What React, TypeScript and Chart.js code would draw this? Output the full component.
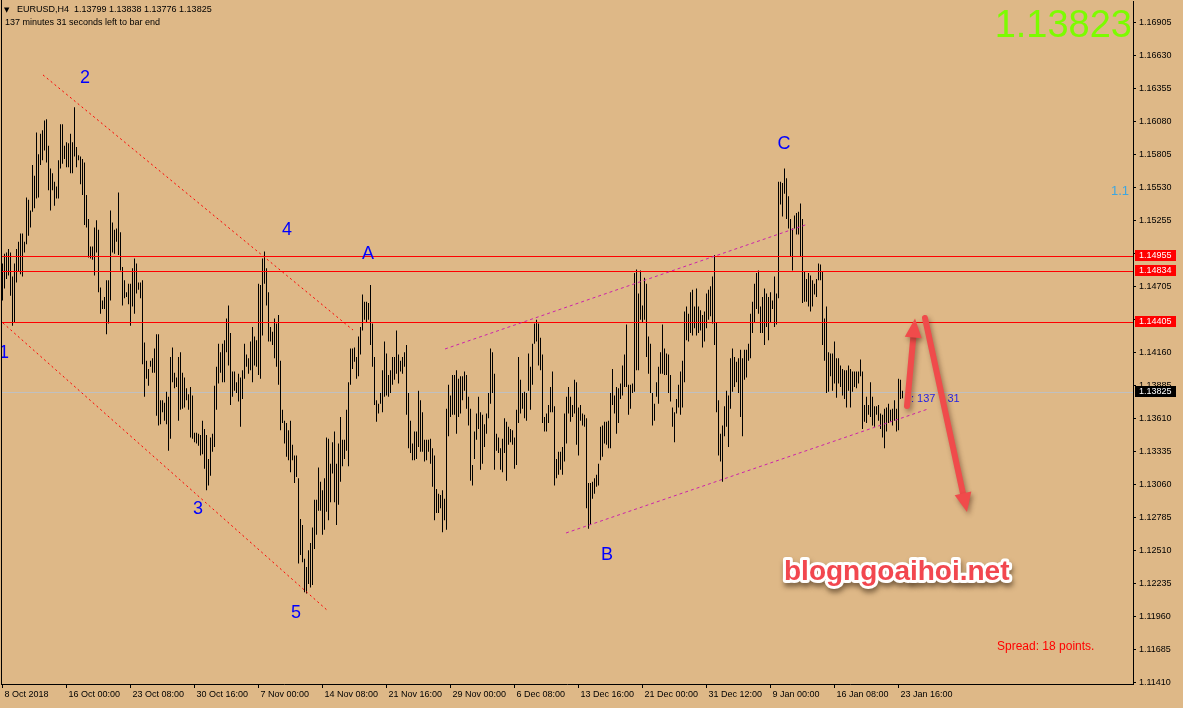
import React, { useEffect, useRef } from 'react';
import { Chart, registerables } from 'chart.js';

Chart.register(...registerables);

const FONT = '"Liberation Sans", Arial, sans-serif';
const BG = '#DEB887';

const headerText = 'EURUSD,H4  1.13799 1.13838 1.13776 1.13825';
const timerText = '137 minutes 31 seconds left to bar end';
const bigPrice = '1.13823';
const spreadText = 'Spread: 18 points.';
const fiboText = '1.1';
const barTimerParts = [': 137', ':', '31'];
const watermark = 'blogngoaihoi.net';

// H4 bar highs (bar 0 = 8 Oct 2018)
const highs: number[] = [
  1.1490,1.1498,1.1499,1.1502,1.1499,1.1479,1.1490,1.1502,1.1508,1.1515,
  1.1515,1.1508,1.1545,1.1543,1.1534,1.1572,1.1563,1.1599,1.1581,1.1598,
  1.1601,1.1609,1.1610,1.1588,1.1569,1.1565,1.1558,1.1554,1.1576,1.1606,
  1.1606,1.1588,1.1591,1.1590,1.1598,1.1591,1.1620,1.1587,1.1580,1.1579,
  1.1577,1.1574,1.1547,1.1527,1.1504,1.1504,1.1520,1.1526,1.1518,1.1470,
  1.1459,1.1462,1.1476,1.1476,1.1534,1.1524,1.1518,1.1519,1.1549,1.1516,
  1.1487,1.1476,1.1466,1.1473,1.1473,1.1486,1.1494,1.1490,1.1474,1.1474,
  1.1476,1.1424,1.1409,1.1402,1.1409,1.1411,1.1419,1.1431,1.1431,1.1376,
  1.1376,1.1374,1.1383,1.1379,1.1412,1.1420,1.1399,1.1395,1.1412,1.1416,
  1.1399,1.1395,1.1386,1.1381,1.1387,1.1380,1.1349,1.1349,1.1348,1.1347,
  1.1359,1.1352,1.1347,1.1327,1.1345,1.1348,1.1388,1.1404,1.1423,1.1416,
  1.1423,1.1426,1.1444,1.1455,1.1432,1.1400,1.1400,1.1391,1.1398,1.1395,
  1.1401,1.1423,1.1414,1.1411,1.1425,1.1437,1.1429,1.1426,1.1473,1.1472,
  1.1494,1.1500,1.1486,1.1466,1.1437,1.1433,1.1444,1.1440,1.1447,1.1409,
  1.1368,1.1359,1.1357,1.1351,1.1359,1.1339,1.1330,1.1330,1.1311,1.1277,
  1.1272,1.1244,1.1237,1.1251,1.1257,1.1270,1.1293,1.1293,1.1320,1.1308,
  1.1301,1.1311,1.1345,1.1344,1.1323,1.1341,1.1350,1.1323,1.1340,1.1362,
  1.1343,1.1343,1.1368,1.1391,1.1419,1.1419,1.1420,1.1412,1.1429,1.1437,
  1.1464,1.1458,1.1458,1.1457,1.1472,1.1440,1.1412,1.1376,1.1373,1.1382,
  1.1401,1.1425,1.1415,1.1397,1.1401,1.1412,1.1412,1.1434,1.1414,1.1409,
  1.1412,1.1416,1.1422,1.1382,1.1359,1.1340,1.1350,1.1350,1.1384,1.1376,
  1.1366,1.1343,1.1343,1.1343,1.1344,1.1336,1.1330,1.1302,1.1298,1.1297,
  1.1301,1.1294,1.1369,1.1389,1.1380,1.1397,1.1397,1.1401,1.1394,1.1396,
  1.1396,1.1400,1.1397,1.1379,1.1369,1.1322,1.1350,1.1365,1.1379,1.1366,
  1.1364,1.1356,1.1365,1.1382,1.1419,1.1416,1.1398,1.1348,1.1345,1.1336,
  1.1344,1.1361,1.1358,1.1354,1.1352,1.1351,1.1345,1.1368,1.1412,1.1393,
  1.1382,1.1383,1.1382,1.1415,1.1404,1.1423,1.1440,1.1443,1.1440,1.1428,
  1.1414,1.1362,1.1365,1.1372,1.1387,1.1400,1.1371,1.1327,1.1333,1.1333,
  1.1337,1.1365,1.1379,1.1387,1.1379,1.1372,1.1393,1.1391,1.1370,1.1372,
  1.1365,1.1364,1.1361,1.1307,1.1307,1.1308,1.1311,1.1314,1.1323,1.1354,
  1.1355,1.1358,1.1358,1.1359,1.1382,1.1402,1.1380,1.1387,1.1386,1.1390,
  1.1405,1.1414,1.1439,1.1389,1.1389,1.1390,1.1482,1.1485,1.1465,1.1484,
  1.1455,1.1478,1.1473,1.1429,1.1423,1.1382,1.1373,1.1391,1.1404,1.1416,
  1.1439,1.1419,1.1415,1.1414,1.1397,1.1370,1.1366,1.1377,1.1389,1.1400,
  1.1409,1.1450,1.1454,1.1448,1.1466,1.1468,1.1454,1.1469,1.1454,1.1451,
  1.1447,1.1450,1.1465,1.1468,1.1471,1.1479,1.1497,1.1441,1.1376,1.1348,
  1.1355,1.1371,1.1384,1.1380,1.1411,1.1419,1.1412,1.1408,1.1411,1.1418,
  1.1411,1.1418,1.1418,1.1423,1.1448,1.1458,1.1473,1.1482,1.1484,1.1454,
  1.1462,1.1469,1.1465,1.1462,1.1466,1.1459,1.1479,1.1465,1.1558,1.1558,
  1.1557,1.1569,1.1561,1.1546,1.1527,1.1519,1.1530,1.1532,1.1533,1.1540,
  1.1527,1.1483,1.1477,1.1482,1.1480,1.1476,1.1473,1.1477,1.1490,1.1489,
  1.1483,1.1444,1.1454,1.1416,1.1415,1.1415,1.1425,1.1411,1.1411,1.1405,
  1.1402,1.1401,1.1401,1.1405,1.1402,1.1400,1.1400,1.1400,1.1400,1.1410,
  1.1400,1.1372,1.1379,1.1372,1.1391,1.1379,1.1371,1.1371,1.1372,1.1365,
  1.1364,1.1369,1.1370,1.1373,1.1368,1.1369,1.1376,1.1369,1.1394,1.1393,
  1.13838,
];

// H4 bar lows
const lows: number[] = [
  1.1459,1.1469,1.1477,1.1480,1.1463,1.1438,1.1441,1.1474,1.1483,1.1481,
  1.1479,1.1499,1.1506,1.1513,1.1520,1.1533,1.1536,1.1544,1.1545,1.1572,
  1.1576,1.1584,1.1574,1.1551,1.1534,1.1551,1.1538,1.1544,1.1544,1.1569,
  1.1573,1.1577,1.1570,1.1570,1.1565,1.1565,1.1579,1.1570,1.1576,1.1556,
  1.1547,1.1522,1.1520,1.1495,1.1494,1.1493,1.1480,1.1499,1.1466,1.1448,
  1.1452,1.1452,1.1431,1.1440,1.1459,1.1499,1.1498,1.1508,1.1497,1.1484,
  1.1455,1.1461,1.1462,1.1456,1.1438,1.1454,1.1448,1.1465,1.1468,1.1461,
  1.1406,1.1379,1.1394,1.1388,1.1404,1.1399,1.1399,1.1363,1.1355,1.1356,
  1.1366,1.1359,1.1356,1.1334,1.1344,1.1391,1.1386,1.1387,1.1359,1.1368,
  1.1369,1.1370,1.1376,1.1368,1.1345,1.1344,1.1341,1.1340,1.1338,1.1330,
  1.1331,1.1319,1.1301,1.1305,1.1313,1.1333,1.1337,1.1368,1.1390,1.1399,
  1.1391,1.1391,1.1416,1.1405,1.1372,1.1379,1.1384,1.1382,1.1375,1.1354,
  1.1377,1.1394,1.1404,1.1398,1.1401,1.1391,1.1405,1.1404,1.1397,1.1394,
  1.1430,1.1473,1.1455,1.1425,1.1425,1.1422,1.1411,1.1404,1.1389,1.1351,
  1.1357,1.1340,1.1329,1.1326,1.1316,1.1326,1.1307,1.1312,1.1240,1.1247,
  1.1241,1.1216,1.1215,1.1223,1.1220,1.1222,1.1252,1.1264,1.1284,1.1284,
  1.1264,1.1268,1.1283,1.1276,1.1291,1.1315,1.1291,1.1272,1.1289,1.1308,
  1.1321,1.1327,1.1334,1.1321,1.1389,1.1402,1.1408,1.1394,1.1396,1.1414,
  1.1434,1.1443,1.1441,1.1443,1.1422,1.1404,1.1372,1.1358,1.1365,1.1373,
  1.1366,1.1379,1.1380,1.1379,1.1382,1.1389,1.1393,1.1398,1.1390,1.1400,
  1.1398,1.1404,1.1364,1.1336,1.1332,1.1326,1.1326,1.1327,1.1337,1.1333,
  1.1333,1.1325,1.1326,1.1333,1.1323,1.1304,1.1276,1.1282,1.1282,1.1286,
  1.1266,1.1276,1.1268,1.1346,1.1362,1.1364,1.1364,1.1348,1.1362,1.1365,
  1.1376,1.1384,1.1369,1.1355,1.1309,1.1305,1.1327,1.1343,1.1352,1.1318,
  1.1323,1.1337,1.1348,1.1361,1.1373,1.1382,1.1318,1.1334,1.1332,1.1318,
  1.1316,1.1332,1.1309,1.1339,1.1341,1.1339,1.1319,1.1322,1.1357,1.1365,
  1.1369,1.1361,1.1359,1.1384,1.1368,1.1389,1.1423,1.1425,1.1405,1.1401,
  1.1357,1.1350,1.1350,1.1357,1.1366,1.1366,1.1305,1.1311,1.1314,1.1318,
  1.1314,1.1325,1.1340,1.1365,1.1358,1.1362,1.1365,1.1339,1.1330,1.1359,
  1.1355,1.1354,1.1286,1.1269,1.1272,1.1294,1.1298,1.1304,1.1305,1.1326,
  1.1329,1.1340,1.1339,1.1336,1.1336,1.1372,1.1365,1.1348,1.1357,1.1377,
  1.1380,1.1387,1.1387,1.1364,1.1369,1.1382,1.1383,1.1401,1.1401,1.1443,
  1.1441,1.1443,1.1412,1.1398,1.1382,1.1355,1.1359,1.1379,1.1373,1.1398,
  1.1398,1.1397,1.1397,1.1382,1.1375,1.1354,1.1341,1.1365,1.1370,1.1364,
  1.1370,1.1391,1.1426,1.1425,1.1432,1.1430,1.1436,1.1430,1.1432,1.1434,
  1.1420,1.1425,1.1436,1.1443,1.1446,1.1440,1.1422,1.1366,1.1330,1.1325,
  1.1308,1.1346,1.1354,1.1337,1.1369,1.1383,1.1387,1.1391,1.1382,1.1362,
  1.1346,1.1393,1.1395,1.1409,1.1411,1.1432,1.1441,1.1452,1.1448,1.1432,
  1.1432,1.1422,1.1437,1.1426,1.1441,1.1452,1.1437,1.1439,1.1461,1.1539,
  1.1529,1.1548,1.1527,1.1519,1.1496,1.1484,1.1519,1.1514,1.1514,1.1496,
  1.1457,1.1458,1.1458,1.1454,1.1450,1.1454,1.1464,1.1462,1.1476,1.1476,
  1.1422,1.1409,1.1382,1.1383,1.1396,1.1384,1.1390,1.1378,1.1390,1.1387,
  1.1380,1.1377,1.1370,1.1384,1.1370,1.1383,1.1387,1.1386,1.1390,1.1396,
  1.1352,1.1358,1.1357,1.1364,1.1362,1.1355,1.1354,1.1364,1.1359,1.1352,
  1.1345,1.1336,1.1350,1.1357,1.1358,1.1355,1.1359,1.1350,1.1351,1.1377,
  1.13776,
];

const dateTickBars = [0, 32, 64, 96, 128, 160, 192, 224, 256, 288, 320, 352, 384, 416, 448];
const dateLabels = [
  '8 Oct 2018', '16 Oct 00:00', '23 Oct 08:00', '30 Oct 16:00', '7 Nov 00:00',
  '14 Nov 08:00', '21 Nov 16:00', '29 Nov 00:00', '6 Dec 08:00', '13 Dec 16:00',
  '21 Dec 00:00', '31 Dec 12:00', '9 Jan 00:00', '16 Jan 08:00', '23 Jan 16:00',
];

const priceTicks = [
  1.11410, 1.11685, 1.11960, 1.12235, 1.12510, 1.12785, 1.13060, 1.13335, 1.13610, 1.13885,
  1.14160, 1.14430, 1.14705, 1.14980, 1.15255, 1.15530, 1.15805, 1.16080, 1.16355, 1.16630, 1.16905,
];

const resistanceLevels = [1.14955, 1.14834, 1.14405];
const bidPrice = 1.13825;

// wave labels: [text, bar index, price]
const waveLabels: [string, number, number][] = [
  ['1', 0.75, 1.14154],
  ['2', 41.25, 1.16445],
  ['3', 97.75, 1.12854],
  ['4', 142.25, 1.15178],
  ['5', 146.75, 1.11988],
  ['A', 182.75, 1.14978],
  ['B', 302.25, 1.12471],
  ['C', 390.75, 1.15895],
];

// trend lines: [barA, priceA, barB, priceB]
const redTrendLines: number[][] = [
  [20.25, 1.16470, 175.25, 1.14345],
  [0.25, 1.14403, 162.25, 1.12012],
];
const channelLines: number[][] = [
  [221.25, 1.14187, 402.75, 1.15228],
  [281.75, 1.12654, 462.75, 1.13687],
];
// arrows: [fromBar, fromPrice, toBar, toPrice]
const arrows: number[][] = [
  [452.25, 1.13712, 456.25, 1.14440],
  [461.25, 1.14445, 482.25, 1.12829],
];
// bar timer text anchors: [bar index, price]
const timerAnchors: number[][] = [
  [454.25, 1.13770],
  [469.5, 1.13770],
  [472.5, 1.13770],
];

function drawArrow(ctx: CanvasRenderingContext2D, x1: number, y1: number, x2: number, y2: number) {
  const ang = Math.atan2(y2 - y1, x2 - x1);
  const headLen = 19;
  const headW = 17;
  const c = Math.cos(ang), s = Math.sin(ang);
  const bx = x2 - headLen * c, by = y2 - headLen * s;
  ctx.save();
  ctx.shadowColor = 'rgba(70,35,20,0.45)';
  ctx.shadowBlur = 5;
  ctx.shadowOffsetX = 2;
  ctx.shadowOffsetY = 3;
  ctx.strokeStyle = '#F04B4B';
  ctx.fillStyle = '#F04B4B';
  ctx.lineWidth = 6;
  ctx.lineCap = 'round';
  ctx.beginPath();
  ctx.moveTo(x1, y1);
  ctx.lineTo(bx + 2 * c, by + 2 * s);
  ctx.stroke();
  ctx.beginPath();
  ctx.moveTo(x2, y2);
  ctx.lineTo(bx - (headW / 2) * s, by + (headW / 2) * c);
  ctx.lineTo(bx + (headW / 2) * s, by - (headW / 2) * c);
  ctx.closePath();
  ctx.fill();
  ctx.restore();
}

const overlayPlugin = {
  id: 'mt4overlay',
  beforeDraw(chart: any) {
    const ctx = chart.ctx;
    ctx.save();
    ctx.fillStyle = BG;
    ctx.fillRect(0, 0, chart.width, chart.height);
    ctx.restore();
  },
  beforeDatasetsDraw(chart: any) {
    const { ctx, chartArea: a, scales } = chart;
    const y = Math.floor(scales.y.getPixelForValue(bidPrice)) + 0.5;
    ctx.save();
    ctx.strokeStyle = '#C0C0C0';
    ctx.lineWidth = 1;
    ctx.beginPath();
    ctx.moveTo(a.left, y);
    ctx.lineTo(a.right, y);
    ctx.stroke();
    ctx.restore();
  },
  afterDatasetsDraw(chart: any) {
    const { ctx, chartArea: a, scales } = chart;
    const X = (v: number) => scales.x.getPixelForValue(v);
    const Y = (v: number) => scales.y.getPixelForValue(v);
    ctx.save();
    ctx.beginPath();
    ctx.rect(a.left, 0, a.right - a.left, a.bottom);
    ctx.clip();

    // resistance levels
    ctx.strokeStyle = '#FF0000';
    ctx.lineWidth = 1;
    resistanceLevels.forEach((p) => {
      const y = Math.floor(Y(p)) + 0.5;
      ctx.beginPath();
      ctx.moveTo(a.left, y);
      ctx.lineTo(a.right, y);
      ctx.stroke();
    });

    // red dotted trend lines
    ctx.setLineDash([2, 3]);
    ctx.strokeStyle = '#FF0000';
    redTrendLines.forEach((l) => {
      ctx.beginPath();
      ctx.moveTo(X(l[0]), Y(l[1]));
      ctx.lineTo(X(l[2]), Y(l[3]));
      ctx.stroke();
    });
    // magenta channel lines
    ctx.setLineDash([3, 3]);
    ctx.strokeStyle = '#CC22AA';
    channelLines.forEach((l) => {
      ctx.beginPath();
      ctx.moveTo(X(l[0]), Y(l[1]));
      ctx.lineTo(X(l[2]), Y(l[3]));
      ctx.stroke();
    });
    ctx.setLineDash([]);

    // wave labels
    ctx.fillStyle = '#0000FF';
    ctx.font = `18px ${FONT}`;
    ctx.textAlign = 'center';
    ctx.textBaseline = 'middle';
    waveLabels.forEach(([t, i, p]) => {
      ctx.fillText(t, X(i), Y(p));
    });

    // bar timer text
    ctx.font = `11px ${FONT}`;
    ctx.textAlign = 'left';
    ctx.fillStyle = '#1E1EE6';
    barTimerParts.forEach((t, k) => {
      ctx.fillText(t, X(timerAnchors[k][0]), Y(timerAnchors[k][1]));
    });

    // arrows
    arrows.forEach((ar) => drawArrow(ctx, X(ar[0]), Y(ar[1]), X(ar[2]), Y(ar[3])));

    // watermark
    ctx.save();
    ctx.font = `bold 28px ${FONT}`;
    ctx.textAlign = 'left';
    ctx.textBaseline = 'alphabetic';
    ctx.lineJoin = 'round';
    ctx.shadowColor = 'rgba(60,40,20,0.55)';
    ctx.shadowBlur = 5;
    ctx.shadowOffsetX = 1;
    ctx.shadowOffsetY = 4;
    ctx.strokeStyle = '#FFFFFF';
    ctx.lineWidth = 6;
    ctx.strokeText(watermark, 784, 580);
    ctx.restore();
    ctx.font = `bold 28px ${FONT}`;
    ctx.textAlign = 'left';
    ctx.textBaseline = 'alphabetic';
    ctx.fillStyle = '#F2474F';
    ctx.fillText(watermark, 784, 580);

    // spread text
    ctx.font = `12px ${FONT}`;
    ctx.fillStyle = '#FF0000';
    ctx.textBaseline = 'middle';
    ctx.fillText(spreadText, 997, 647);

    // fibo text
    ctx.font = `13px ${FONT}`;
    ctx.fillStyle = '#3EA6E0';
    ctx.fillText(fiboText, 1111, 191);

    // big price
    ctx.font = `38px ${FONT}`;
    ctx.fillStyle = '#7CFC00';
    ctx.textAlign = 'right';
    ctx.textBaseline = 'alphabetic';
    ctx.fillText(bigPrice, 1132, 37);

    // header
    ctx.fillStyle = '#000000';
    ctx.textAlign = 'left';
    ctx.textBaseline = 'middle';
    ctx.font = `7px "DejaVu Sans", ${FONT}`;
    ctx.fillText('\u25BC', 4, 10);
    ctx.font = `9px ${FONT}`;
    ctx.fillText(headerText, 17, 10);
    ctx.fillText(timerText, 5, 23);

    ctx.restore();
  },
  afterDraw(chart: any) {
    const { ctx, chartArea: a, scales } = chart;
    ctx.save();
    // left frame line
    ctx.fillStyle = '#000000';
    ctx.fillRect(a.left, 0, 1, a.bottom);
    // price boxes on the axis
    const boxes: [number, string][] = [
      [resistanceLevels[0], '#FF0000'],
      [resistanceLevels[1], '#FF0000'],
      [resistanceLevels[2], '#FF0000'],
      [bidPrice, '#000000'],
    ];
    ctx.font = `9px ${FONT}`;
    ctx.textAlign = 'left';
    ctx.textBaseline = 'middle';
    boxes.forEach(([p, col]) => {
      const y = Math.floor(scales.y.getPixelForValue(p));
      const top = y - 6;
      ctx.fillStyle = col;
      ctx.fillRect(a.right + 2, top, 41, 11);
      ctx.fillStyle = '#FFFFFF';
      ctx.fillText(p.toFixed(5), a.right + 6, top + 6);
    });
    ctx.restore();
  },
};

export default function App() {
  const ref = useRef<HTMLCanvasElement>(null);
  useEffect(() => {
    document.body.style.margin = '0';
    document.body.style.background = BG;
    const canvas = ref.current as HTMLCanvasElement;
    const barData = highs.map((h, i) => ({ x: i, y: [lows[i], h] }));
    const chart = new Chart(canvas, {
      type: 'bar',
      data: {
        datasets: [
          {
            data: barData as any,
            backgroundColor: '#000000',
            borderWidth: 0,
            barThickness: 1,
            inflateAmount: 0,
          },
        ],
      },
      options: {
        animation: false,
        responsive: false,
        devicePixelRatio: 1,
        events: [],
        layout: { padding: { top: 1, left: 1, right: 0, bottom: 0 } },
        plugins: { legend: { display: false }, tooltip: { enabled: false } },
        scales: {
          x: {
            type: 'linear',
            min: -0.75,
            max: 565.25,
            offset: false,
            grid: { drawOnChartArea: false, offset: false, tickLength: 4, color: '#000000' },
            border: { display: true, color: '#000000', width: 1 },
            afterBuildTicks: (s: any) => {
              s.ticks = dateTickBars.map((v) => ({ value: v }));
            },
            afterFit: (s: any) => {
              s.height = 24;
              s.paddingLeft = 0;
              s.paddingRight = 0;
            },
            ticks: {
              autoSkip: false,
              maxRotation: 0,
              minRotation: 0,
              align: 'start',
              labelOffset: 2,
              padding: 1,
              color: '#000000',
              font: { family: FONT, size: 9 },
              callback: (_v: any, idx: number) => dateLabels[idx],
            },
          },
          y: {
            type: 'linear',
            position: 'right',
            min: 1.11396,
            max: 1.17086,
            grid: { drawOnChartArea: false, tickLength: 3, color: '#000000' },
            border: { display: true, color: '#000000', width: 1 },
            afterBuildTicks: (s: any) => {
              s.ticks = priceTicks.map((v) => ({ value: v }));
            },
            afterFit: (s: any) => {
              s.width = 50;
              s.paddingTop = 0;
              s.paddingBottom = 0;
            },
            ticks: {
              padding: 3,
              color: '#000000',
              font: { family: FONT, size: 9 },
              callback: (v: any) => Number(v).toFixed(5),
            },
          },
        },
      } as any,
      plugins: [overlayPlugin],
    });
    return () => chart.destroy();
  }, []);
  return (
    <div style={{ width: 1183, height: 708, background: BG }}>
      <canvas ref={ref} width={1183} height={708} style={{ display: 'block' }} />
    </div>
  );
}
